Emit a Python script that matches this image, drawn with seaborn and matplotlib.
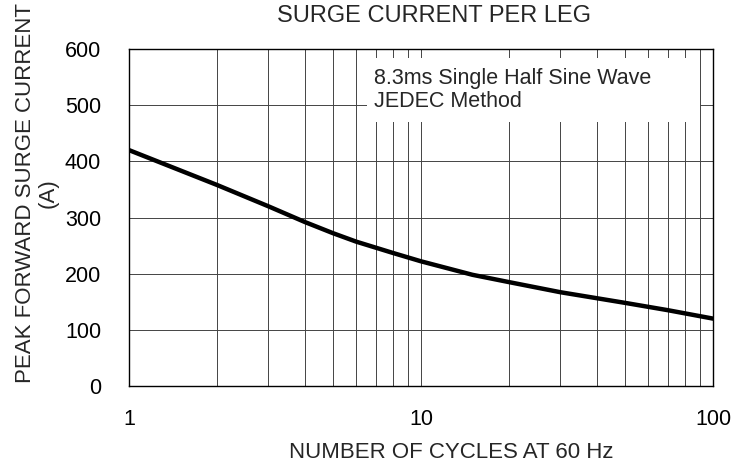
import pandas as pd
import matplotlib
matplotlib.use('Agg')
import matplotlib.pyplot as plt
import matplotlib.patches as patches
from matplotlib.ticker import FixedLocator, NullFormatter
import seaborn as sns

cycles = [1, 2, 3, 4, 5, 6, 8, 10, 15, 20, 30, 50, 70, 100]
surge_current = [420, 358, 320, 292, 272, 257, 237, 222, 198, 185, 167, 148, 135, 120]

x_ticks = [1, 10, 100]
y_ticks = [0, 100, 200, 300, 400, 500, 600]

df = pd.DataFrame({'cycles': cycles, 'current': surge_current})

sns.set_style('white')
plt.rcParams['font.family'] = ['Liberation Sans', 'DejaVu Sans']

W, H = 747, 466
fig = plt.figure(figsize=(W / 100, H / 100), dpi=100)
ax = fig.add_axes([129 / W, 1 - 386 / H, 584 / W, 337 / H])

sns.lineplot(data=df, x='cycles', y='current', color='black', linewidth=3.2, ax=ax, zorder=5)

ax.set_xscale('log')
ax.set_xlim(1, 100)
ax.set_ylim(0, 600)
ax.set_xticks(x_ticks)
ax.set_xticklabels([str(t) for t in x_ticks])
ax.xaxis.set_minor_locator(FixedLocator([m * d for d in (1, 10) for m in range(2, 10)]))
ax.xaxis.set_minor_formatter(NullFormatter())
ax.set_yticks(y_ticks)

ax.grid(True, which='both', axis='x', color='#444444', linewidth=0.7)
ax.grid(True, which='major', axis='y', color='#444444', linewidth=0.7)
ax.tick_params(axis='both', which='both', length=0, labelsize=15.5, colors='black')
ax.tick_params(axis='x', pad=16.5)
ax.tick_params(axis='y', pad=20)
ax.set_xlabel('')
ax.set_ylabel('')

for side in ax.spines.values():
    side.set_color('black')
    side.set_linewidth(1.0)

# white box behind the note
ax.add_patch(patches.Rectangle((0.408, 0.783), 0.57, 0.19, transform=ax.transAxes,
                               facecolor='white', edgecolor='none', zorder=3))
ax.text(0.42, 0.878, '8.3ms Single Half Sine Wave\nJEDEC Method', transform=ax.transAxes,
        fontsize=15.5, va='center', ha='left', linespacing=1.1, zorder=4)

fig.text(434 / W, 1 - 16 / H, 'SURGE CURRENT PER LEG', fontsize=17, ha='center', va='center')
fig.text(451 / W, 1 - 452 / H, 'NUMBER OF CYCLES AT 60 Hz', fontsize=16, ha='center', va='center')
fig.text(37 / W, 1 - 193 / H, 'PEAK FORWARD SURGE CURRENT\n(A)', fontsize=16, rotation=90,
         ha='center', va='center', linespacing=1.1, multialignment='center')

fig.savefig('out.png', dpi=100)
